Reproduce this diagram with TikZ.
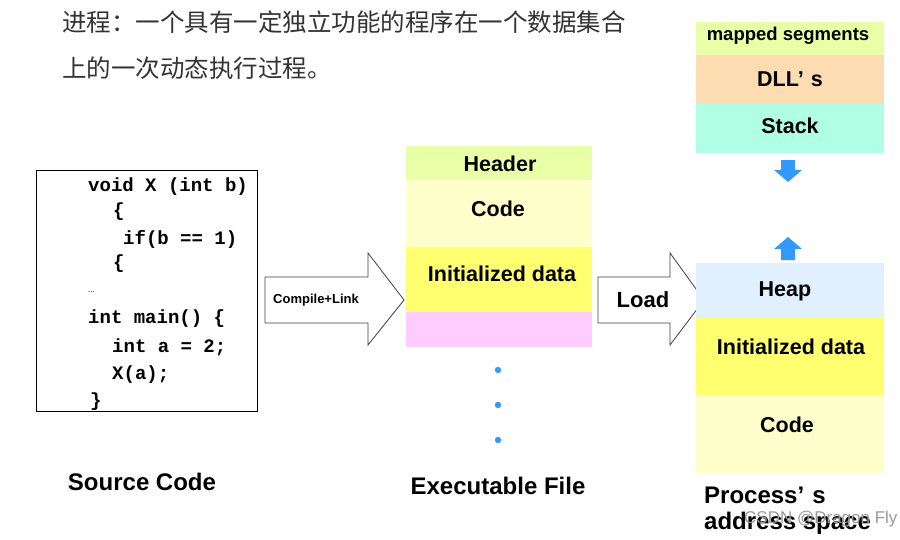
\documentclass[tikz,border=0pt]{standalone}
\usepackage{fontspec}
\setmainfont{Liberation Sans}
\setmonofont{Liberation Mono}
\newfontfamily\cjk{Noto Sans CJK SC}
\usetikzlibrary{shapes.arrows}
\definecolor{cgreen}{HTML}{E8FFA8}
\definecolor{lyel}{HTML}{FFFFCC}
\definecolor{yel}{HTML}{FFFF70}
\definecolor{pink}{HTML}{FFCCFF}
\definecolor{peach}{HTML}{FCDCB0}
\definecolor{mint}{HTML}{B0FFE4}
\definecolor{sky}{HTML}{E0F0FF}
\definecolor{blu}{HTML}{3399FF}
\begin{document}
\begin{tikzpicture}[x=1pt,y=-1pt,
  seg/.style={draw=none,inner sep=0pt,font=\bfseries\fontsize{21.5}{24}\selectfont},
  code/.style={anchor=west,font=\ttfamily\bfseries\fontsize{19}{21}\selectfont,inner sep=0pt},
  lbl/.style={font=\bfseries\fontsize{24}{26}\selectfont,inner sep=0pt},
  bigarrow/.style={draw=black!75,line width=0.8pt,fill=white}]
\useasboundingbox (0,0) rectangle (900,539);
% title
\node[anchor=west,inner sep=0pt,font=\cjk\fontsize{24.5}{26}\selectfont,text=black!80] (t1) at (62,22) {进程：一个具有一定独立功能的程序在一个数据集合};
\node[anchor=west,inner sep=0pt,font=\cjk\fontsize{24.5}{26}\selectfont,text=black!80] (t2) at (62,68) {上的一次动态执行过程。};
% code box
\draw[line width=1pt] (36,170) rectangle (257,411);
\node[code] (c1) at (88,187) {void X (int b)};
\node[code] (c2) at (113,212) {\{};
\node[code] (c3) at (123,239) {if(b == 1)};
\node[code] (c4) at (113,264) {\{};
\node[code,font=\fontsize{8}{9}\selectfont] (c5) at (88,292) {...};
\node[code] (c6) at (88,319) {int main() \{};
\node[code] (c7) at (112,347) {int a = 2;};
\node[code] (c8) at (112,375) {X(a);};
\node[code] (c9) at (90,402) {\}};
\node[lbl] (src) at (142,482) {Source Code};
% compile arrow
\draw[bigarrow] (265,277) -- (368,277) -- (368,253) -- (404,300) -- (368,345) -- (368,323) -- (265,323) -- cycle;
\node[font=\bfseries\fontsize{13}{15}\selectfont,inner sep=0pt] (cl) at (316,300) {Compile+Link};
% executable
\fill[cgreen] (406,146) rectangle (592,180);
\fill[lyel] (406,180) rectangle (592,247);
\fill[yel] (406,247) rectangle (592,312);
\fill[pink] (406,312) rectangle (592,347);
\node[seg] (eh) at (500,164) {Header};
\node[seg] (ec) at (498,209) {Code};
\node[seg] (ei) at (502,274) {Initialized data};
\foreach \yy in {370,405,440} \fill[blu] (498,\yy) circle (3.2);
\node[lbl] (exe) at (498,486) {Executable File};
% load arrow
\draw[bigarrow] (598,277) -- (670,277) -- (670,253) -- (704,300) -- (670,345) -- (670,323) -- (598,323) -- cycle;
\node[font=\bfseries\fontsize{22}{24}\selectfont,inner sep=0pt] (ld) at (643,300) {Load};
% process
\fill[cgreen] (696,22) rectangle (884,55);
\fill[peach] (696,55) rectangle (884,104);
\fill[mint] (696,104) rectangle (884,153);
\fill[sky] (696,263) rectangle (884,317);
\fill[yel] (696,317) rectangle (884,395);
\fill[lyel] (696,395) rectangle (884,473);
\node[seg,font=\bfseries\fontsize{18.5}{20}\selectfont] (pm) at (788,36) {mapped segments};
\node[seg] (pd) at (790,79) {DLL’\,\,s};
\node[seg] (ps) at (790,126) {Stack};
\node[seg] (ph) at (785,291) {Heap};
\node[seg] (pi) at (791,347) {Initialized data};
\node[seg] (pc) at (787,425) {Code};
\fill[blu] (781,160) rectangle (795,170) -- (802,170) -- (788,182) -- (774,170) -- (781,170);
\fill[blu] (781,260) rectangle (795,249) -- (802,249) -- (788,237) -- (774,249) -- (781,249);
\node[lbl,anchor=west,font=\bfseries\fontsize{24}{26}\selectfont] (pp1) at (704,495) {Process’\,\,s};
\node[lbl,anchor=west] (pp2) at (704,523) {address space};
\node[anchor=west,inner sep=0pt,text=black!40,font=\fontsize{17}{18}\selectfont] (wm) at (744,519) {CSDN @Dragon Fly};
\end{tikzpicture}
\end{document}
